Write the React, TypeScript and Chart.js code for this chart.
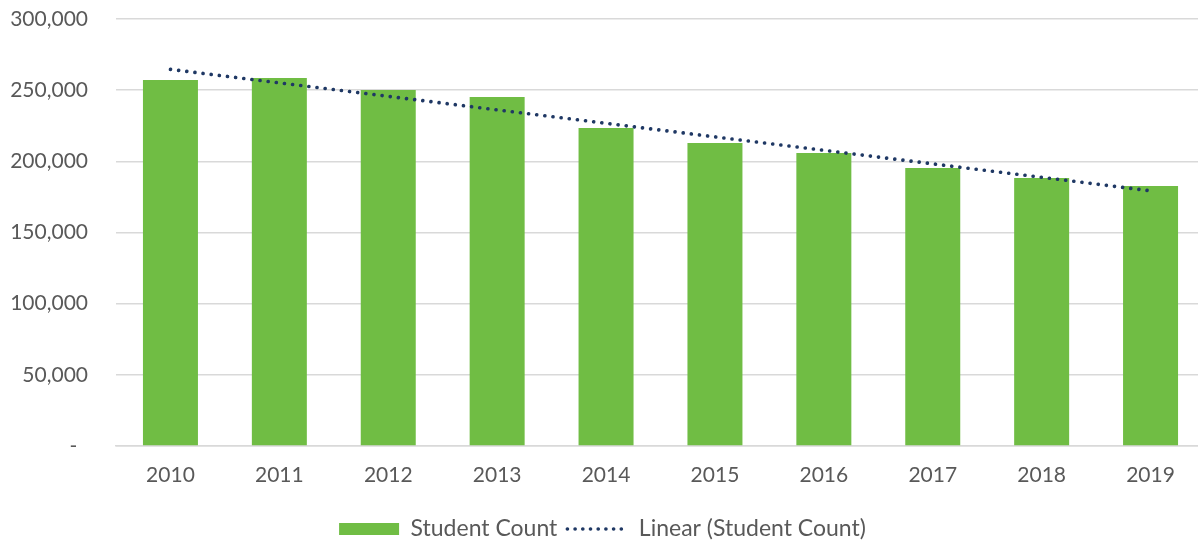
import React, { useEffect, useRef } from "react";
import { Chart, registerables } from "chart.js";

Chart.register(...registerables);

const years = ["2010", "2011", "2012", "2013", "2014", "2015", "2016", "2017", "2018", "2019"];
const studentCount = [257200, 258500, 250100, 245200, 223400, 212900, 205900, 195300, 188300, 182700];
const yTicks = [0, 50000, 100000, 150000, 200000, 250000, 300000];
const seriesLabel = "Student Count";
const trendLabel = "Linear (Student Count)";

function linearTrend(values: number[]): number[] {
  const n = values.length;
  const xm = (n - 1) / 2;
  const ym = values.reduce((a, b) => a + b, 0) / n;
  let sxy = 0;
  let sxx = 0;
  values.forEach((v, i) => {
    sxy += (i - xm) * (v - ym);
    sxx += (i - xm) * (i - xm);
  });
  const slope = sxy / sxx;
  return values.map((_, i) => ym + slope * (i - xm));
}

const FONT = "Lato, 'Open Sans', sans-serif";
const FS = 21;
const LEGEND_FS = 23;
const GREY = "#595959";
const GREEN = "#70bd44";
const NAVY = "#1f3864";

export default function App() {
  const ref = useRef<HTMLCanvasElement | null>(null);

  useEffect(() => {
    document.body.style.margin = "0";
    if (!ref.current) return;
    const chart = new Chart(ref.current, {
      data: {
        labels: years,
        datasets: [
          {
            type: "line",
            label: trendLabel,
            data: linearTrend(studentCount),
            borderColor: NAVY,
            backgroundColor: NAVY,
            borderWidth: 3.6,
            borderDash: [0.1, 8.1],
            borderCapStyle: "round",
            pointRadius: 0,
            fill: false,
            order: 0,
          },
          {
            type: "bar",
            label: seriesLabel,
            data: studentCount,
            backgroundColor: GREEN,
            borderWidth: 0,
            barPercentage: 1,
            categoryPercentage: 0.505,
            order: 1,
          },
        ],
      },
      options: {
        animation: false,
        responsive: false,
        maintainAspectRatio: false,
        layout: { padding: { top: 19, right: 0, left: 0, bottom: -6.5 } },
        plugins: {
          tooltip: { enabled: false },
          legend: {
            position: "bottom",
            labels: {
              color: GREY,
              font: { family: FONT, size: LEGEND_FS },
              usePointStyle: true,
              pointStyleWidth: 60,
              boxHeight: 12,
              padding: 10,
              generateLabels: () => [
                { text: seriesLabel, fillStyle: GREEN, strokeStyle: GREEN, lineWidth: 0, pointStyle: "rect", hidden: false, datasetIndex: 1, fontColor: GREY },
                { text: trendLabel, fillStyle: "rgba(0,0,0,0)", strokeStyle: NAVY, lineWidth: 3.6, lineDash: [0.1, 7.6], lineCap: "round", pointStyle: "line", hidden: false, datasetIndex: 0, fontColor: GREY },
              ],
            },
          },
        },
        scales: {
          x: {
            offset: true,
            grid: { display: false, drawTicks: false },
            border: { display: true, color: "#d9d9d9", width: 1.5 },
            ticks: { color: GREY, font: { family: FONT, size: FS }, padding: 17 },
            afterFit: (s: any) => {
              s.height = 61.5;
            },
          },
          y: {
            min: 0,
            max: 300000,
            afterBuildTicks: (axis: any) => {
              axis.ticks = yTicks.map((v) => ({ value: v }));
            },
            grid: { color: "#d9d9d9", lineWidth: 1.5, drawTicks: false },
            border: { display: false },
            ticks: {
              color: GREY,
              font: { family: FONT, size: FS },
              padding: 28,
              callback: (v: any) => (Number(v) === 0 ? "-  " : Number(v).toLocaleString("en-US")),
            },
            afterFit: (s: any) => {
              s.width = 116;
              s.paddingTop = 0;
              s.paddingBottom = 0;
            },
          },
        },
      },
    } as any);
    return () => chart.destroy();
  }, []);

  return (
    <div style={{ width: 1198, height: 544, overflow: "hidden" }}>
      <canvas ref={ref} width={1205} height={544} style={{ display: "block" }} />
    </div>
  );
}
